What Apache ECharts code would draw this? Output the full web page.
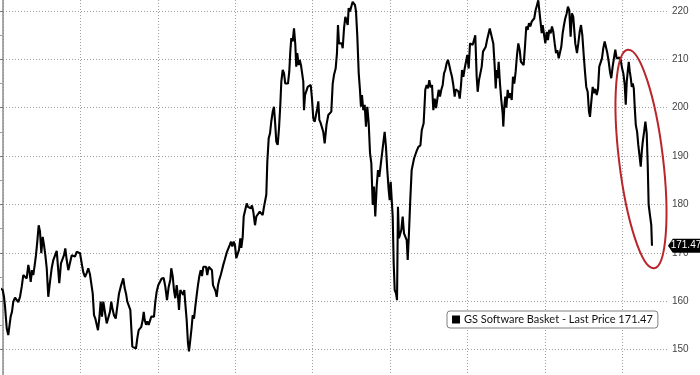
<!DOCTYPE html>
<html><head><meta charset="utf-8">
<script src="https://cdn.jsdelivr.net/npm/echarts@6/dist/echarts.min.js"></script>
<style>html,body{margin:0;padding:0;background:#fff}#c{width:700px;height:375px}</style>
</head><body><div id="c"></div>
<script>
const seriesName = 'GS Software Basket - Last Price';
const lastPrice = 171.47;
const yTicks = [150, 160, 170, 180, 190, 200, 210, 220];
const months = [
-0.39,-0.04,0.13,0.26,0.48,0.68,0.81,0.99,1.16,1.33,1.55,1.77,1.98,2.20,2.42,2.62,2.84,3.06,3.27,3.40,3.58,3.75,3.91,4.10,4.26,4.43,4.61,4.78,4.95,5.13,5.30,5.47,5.65,5.85,6.07,6.29,6.50,6.72,6.94,7.14,7.27,7.49,7.71,7.88,8.05,8.23,8.44,8.66,8.88,9.08,9.30,9.52,9.73,9.95,
10.17,10.37,10.59,10.81,11.02,11.24,11.41,11.59,11.76,11.93,12.11,12.27,12.44,12.62,12.79,12.96,13.18,13.40,13.60,13.82,13.99,14.17,14.34,14.56,14.77,14.99,15.21,15.37,15.54,15.72,15.89,16.06,16.28,16.45,16.58,16.71,16.96,17.18,17.35,17.53,17.70,17.87,18.05,18.18,18.31,18.48,18.64,18.82,18.99,19.16,19.34,19.51,19.68,19.86,20.06,20.28,20.50,
20.76,20.97,21.19,21.41,21.62,21.74,21.93,22.09,22.26,22.44,22.61,22.74,22.91,23.13,23.29,23.42,23.55,23.73,23.90,24.03,24.20,24.38,24.51,24.68,24.85,25.03,25.19,25.36,25.54,25.71,25.88,26.06,26.23,26.39,26.58,26.78,27.00,27.13,27.30,27.48,27.61,27.78,27.94,28.13,28.29,28.46,28.64,28.81,28.94,29.11,29.29,29.46,29.63,29.81,29.97,30.14,30.32,30.49,30.66,30.79,30.97,31.10,
31.49,31.65,31.82,32.00,32.17,32.34,32.56,32.73,32.95,33.17,33.37,33.55,33.72,33.89,34.02,34.15,34.33,34.50,34.66,34.85,35.01,35.18,35.31,35.49,35.66,35.83,35.96,36.14,36.31,36.47,36.65,36.82,36.99,37.12,37.25,37.43,37.60,37.77,37.89,38.02,38.20,38.33,38.50,38.67,38.80,38.89,39.02,39.19,39.37,39.57,39.76,39.92,40.09,40.27,40.44,40.61,40.74,40.87,41.05,41.22,41.38,41.56,
41.80,42.03,42.25,42.42,42.60,42.77,42.98,43.15,43.28,43.41,43.58,43.76,43.89,44.06,44.23,44.41,44.54,44.66,44.83,45.00,45.18,45.35,45.48,45.61,45.78,45.96,46.12,46.25,46.38,46.55,46.73,46.90,47.07,47.25,47.42,47.59,47.77,47.93,48.10,48.28,48.45,48.62,48.80,48.97,49.13,49.31,49.48,49.65,49.83,49.96,50.09,50.22,50.35,50.48,50.61,50.78,50.91,51.03,51.16,51.29,51.46,51.64,51.81,51.98,52.16,52.29,52.45,52.62,52.80,53.11,53.41,53.67,53.93,54.11,54.35,
54.50,54.56,54.74,54.91,55.08,55.26,55.43,55.60,55.78,55.95,56.11,56.29,56.46,56.63,56.81,56.98,57.14,57.32,57.49,57.66,57.84,58.01,58.18,58.36,58.49,58.66,58.83,59.01,59.18,59.31,59.48,59.65,59.82,59.99,60.17,60.34,60.51,60.69,60.85,61.02,61.20,61.33,61.50,61.67,61.85,62.02,62.19,62.37,62.54,62.71,62.89,
63.14,63.35,63.53,63.66,63.78,63.91,64.04,64.21,64.38,64.56,64.64,64.77,64.90,65.03,65.21,65.38,65.55,65.73,65.89,66.06,66.24,66.41,66.58,66.76,66.92,67.09,67.27,67.44,67.61,67.79,67.96,68.13,68.31,68.48,68.64,68.82,68.99,69.16,69.29,69.47,69.60,69.73,69.90,70.07,70.25,70.41,70.58,70.76,70.93,71.10,71.28,71.45,71.62,71.80,71.96,72.13,72.31,72.48,72.65,72.83,72.99,73.16,73.34,73.51,73.68,
73.94,74.16,74.33,74.51,74.68,74.85,75.03,75.19,75.36,75.54,75.71,75.84,76.01,76.19,76.36,76.53,76.71,76.88,77.04,77.22,77.39,77.56,77.74,77.91,78.08,78.26,78.42,78.59,78.77,78.94,79.11,79.29,79.46,79.63,79.81,79.98,80.15,80.33,80.46,80.59,80.72,80.85,80.98,81.11,81.24,81.37,81.50,81.63,81.76,81.93,82.08,82.27,82.40,82.53,82.66,82.83,83.00,83.17,83.30,83.42,83.59,83.76,83.85
];
const prices = [
162.7,162.3,160.9,158.9,154.4,153.0,152.9,156.8,157.8,159.9,160.7,160.6,159.8,160.9,163.0,165.4,165.2,164.7,167.5,166.4,164.0,166.4,165.4,167.5,169.5,172.3,175.7,174.4,169.9,173.3,171.6,169.5,166.8,160.9,164.0,166.8,168.5,168.7,170.4,170.4,163.7,167.8,168.1,169.5,170.9,168.5,166.4,166.7,169.5,169.9,169.2,170.2,170.5,169.9,
167.8,166.0,165.0,165.8,166.8,165.5,165.8,161.6,157.1,156.4,155.1,154.0,156.4,159.9,156.8,159.9,159.6,155.4,155.2,157.8,159.9,158.2,157.1,156.4,158.9,161.6,163.0,162.7,164.7,162.7,161.6,159.9,159.6,158.2,154.4,150.6,150.2,150.2,152.3,154.0,154.3,154.7,156.1,157.8,156.1,155.1,155.8,155.1,155.4,156.8,157.1,156.8,159.9,162.0,163.3,163.7,164.7,
164.8,163.0,160.2,163.0,164.4,166.8,165.1,162.3,160.6,163.3,160.9,158.2,162.3,162.6,161.3,162.3,159.6,156.1,151.3,149.6,152.0,154.7,157.1,156.4,158.9,161.3,163.3,165.1,166.4,165.2,167.1,166.8,167.1,165.4,167.1,167.1,166.4,163.3,162.7,162.0,160.9,163.3,164.4,165.4,166.4,167.5,168.5,168.2,170.2,170.6,171.6,172.3,171.3,172.3,171.6,168.9,169.2,170.6,173.0,171.0,173.3,177.5,
180.2,179.5,179.8,179.2,179.8,178.5,175.7,177.5,177.8,178.5,178.9,177.8,179.5,179.8,182.0,188.8,193.7,194.7,197.1,199.2,200.2,196.4,193.0,192.3,195.7,200.6,205.4,207.8,207.1,205.0,204.7,205.0,207.5,211.6,214.4,213.7,216.4,213.0,208.5,211.3,208.8,209.9,208.8,209.2,205.4,199.5,202.6,202.9,204.3,204.3,204.7,201.9,197.8,197.1,198.5,199.9,201.3,197.5,196.8,197.1,195.0,192.6,
196.5,198.5,198.8,199.2,205.0,206.8,208.1,211.3,217.1,213.3,213.5,213.3,212.3,216.4,218.8,218.6,217.1,220.6,219.9,220.9,221.9,222.2,221.2,219.9,214.7,207.1,203.7,200.2,202.6,199.5,200.6,196.1,200.2,196.8,190.6,188.5,179.9,183.7,177.5,183.7,187.1,185.7,188.2,188.0,192.6,195.0,191.9,187.1,183.0,180.9,184.7,184.8,177.5,167.8,162.3,161.6,160.2,179.5,173.0,172.6,174.7,177.5,174.0,173.9,172.6,168.5,174.0,180.9,187.1,189.5,190.9,191.9,192.2,195.4,196.8,
201.6,203.7,204.7,204.0,205.7,204.2,204.7,199.5,201.9,199.9,200.0,203.7,202.3,203.7,204.7,207.1,207.8,209.2,209.9,208.8,207.5,206.4,204.7,202.3,203.8,203.7,203.4,201.9,204.7,207.8,206.4,208.1,208.5,210.9,208.1,213.3,213.3,213.0,213.3,215.0,206.4,203.3,205.7,205.6,208.5,211.6,211.9,212.6,214.0,214.3,216.4,
216.0,213.3,208.5,204.0,207.8,206.1,209.5,205.0,201.6,198.8,196.1,200.2,202.3,200.0,203.7,202.0,203.0,201.6,206.4,205.0,207.5,210.9,213.3,211.9,209.5,209.2,208.8,212.6,216.8,216.1,217.5,216.8,217.8,217.5,218.5,220.2,221.2,222.2,220.2,217.5,215.4,217.1,217.1,213.3,215.7,214.0,216.1,215.4,216.8,215.7,213.3,211.3,211.9,210.2,210.5,212.6,215.4,217.1,218.5,219.5,220.9,220.2,214.7,219.5,218.8,
213.3,211.3,213.3,215.7,217.1,215.0,210.9,207.5,204.3,203.3,199.2,198.1,201.2,204.3,203.0,203.9,202.6,203.9,208.5,208.8,210.2,212.3,213.7,213.3,211.3,209.5,207.5,206.1,208.5,208.8,212.0,210.2,210.4,210.4,209.9,208.2,207.1,204.7,200.6,205.4,207.5,209.5,207.5,206.1,204.3,205.0,204.0,199.9,196.4,195.0,192.3,192.0,187.8,190.9,193.0,195.0,197.1,194.7,188.2,179.9,179.5,175.7,171.47
];
// annotation: ellipse around the recent sell-off, in data units (months, price)
const ellipseCenter = [82.43, 189.4];
const ellipseHalf = [2.84, 22.75];

const data = months.map((m, i) => [m, prices[i]]);
const chart = echarts.init(document.getElementById('c'), null, {renderer: 'canvas'});
const dotted = {color: '#a0a0a0', type: [1, 2], width: 1};
chart.setOption({
  animation: false,
  backgroundColor: '#fff',
  grid: [
    {left: 3, right: 32, top: 0, bottom: 0},
    {left: 0, right: 32, top: 11, bottom: 25.5}
  ],
  xAxis: [
    {type: 'value', gridIndex: 0, min: 0, max: 85.92, interval: 10,
     axisLine: {show: false}, axisTick: {show: false}, axisLabel: {show: false},
     splitLine: {show: true, showMaxLine: false, lineStyle: dotted}},
    {type: 'value', gridIndex: 1, show: false, min: 0, max: 1}
  ],
  yAxis: [
    {type: 'value', gridIndex: 0, position: 'right', min: 144.727, max: 222.275,
     axisLine: {show: true, lineStyle: {color: '#8c8c8c', width: 1.5}},
     axisTick: {show: false}, axisLabel: {show: false}, splitLine: {show: false}},
    {type: 'value', gridIndex: 1, position: 'right', min: yTicks[0], max: yTicks[yTicks.length - 1], interval: 10,
     axisLine: {show: false},
     axisTick: {show: true, inside: false, length: 3, lineStyle: {color: '#777'}},
     minorTick: {show: true, splitNumber: 2, length: 2, lineStyle: {color: '#999'}},
     axisLabel: {show: true, margin: 4, color: '#444', fontSize: 10, fontFamily: 'Liberation Sans'},
     splitLine: {show: true, lineStyle: dotted}}
  ],
  legend: {
    data: [seriesName],
    left: 447, top: 311,
    orient: 'horizontal',
    backgroundColor: '#fff',
    borderColor: '#808080', borderWidth: 1, borderRadius: 3,
    padding: [3, 5, 3, 5],
    icon: 'rect', itemWidth: 8, itemHeight: 8, itemGap: 4,
    itemStyle: {color: '#000'},
    textStyle: {color: '#111', fontSize: 11, fontFamily: 'Lato', padding: [0, 0, 0, -1]},
    formatter: (n) => n + ' ' + lastPrice.toFixed(2)
  },
  series: [{
    type: 'line', name: seriesName, xAxisIndex: 0, yAxisIndex: 0,
    data: data, showSymbol: false, symbol: 'none', clip: false,
    lineStyle: {color: '#000', width: 2.1},
    itemStyle: {color: '#000'},
    z: 5,
    markPoint: {
      silent: true,
      symbol: 'path://M0,7 L6,0 L40,0 L40,14 L6,14 Z',
      symbolSize: [32, 14],
      symbolOffset: [32, 0],
      itemStyle: {color: '#000'},
      label: {show: true, position: 'inside', offset: [2, 0], color: '#fff', fontSize: 10, fontFamily: 'Liberation Sans',
              formatter: () => lastPrice.toFixed(2)},
      data: [{coord: [months[months.length - 1], lastPrice], value: lastPrice}]
    }
  }]
});
const c0 = chart.convertToPixel({xAxisIndex: 0, yAxisIndex: 0}, ellipseCenter);
const c1 = chart.convertToPixel({xAxisIndex: 0, yAxisIndex: 0}, [ellipseCenter[0] + ellipseHalf[0], ellipseCenter[1] + ellipseHalf[1]]);
chart.setOption({
  graphic: [{
    type: 'ellipse', x: c0[0], y: c0[1], rotation: 0.12, z: 100, silent: true,
    shape: {cx: 0, cy: 0, rx: c1[0] - c0[0], ry: c0[1] - c1[1]},
    style: {fill: 'none', stroke: '#b8252b', lineWidth: 2}
  }]
});
</script></body></html>
